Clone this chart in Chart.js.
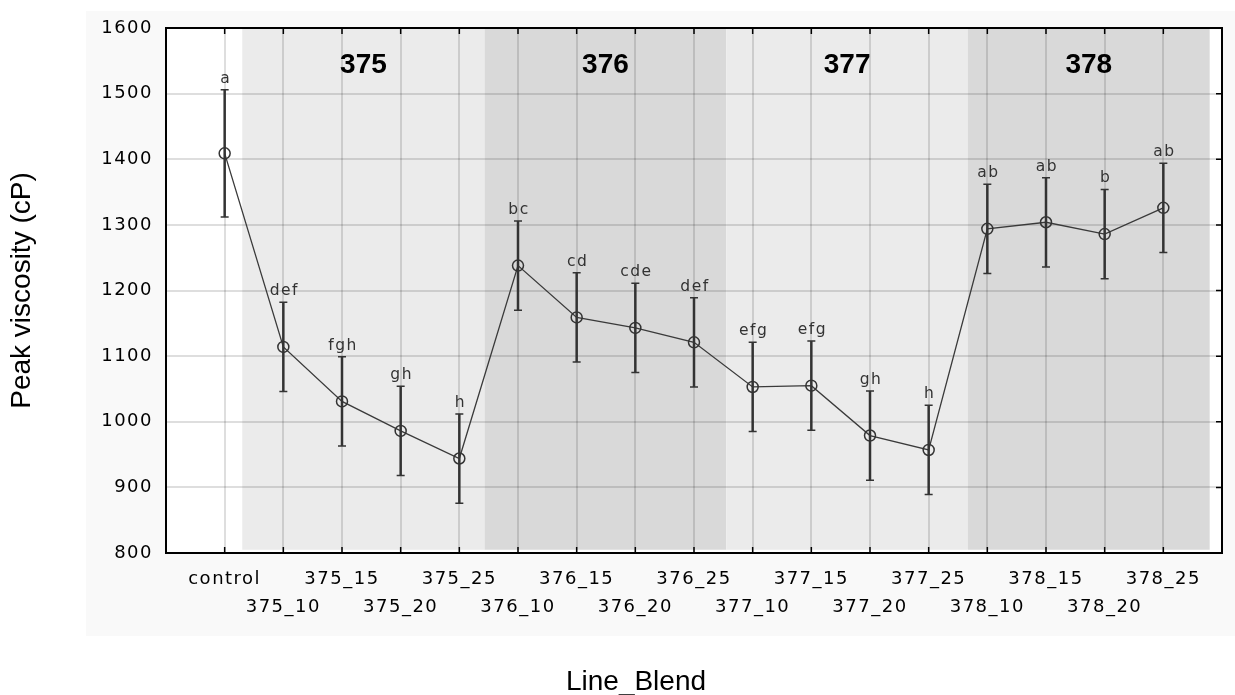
<!DOCTYPE html>
<html>
<head>
<meta charset="utf-8">
<script src="https://cdn.jsdelivr.net/npm/chart.js@4.4.1/dist/chart.umd.min.js"></script>
<style>
  html, body { margin: 0; padding: 0; background: #ffffff; }
  #wrap { width: 1235px; height: 695px; }
</style>
</head>
<body>
<div id="wrap"><canvas id="chart" width="1235" height="695"></canvas></div>
<script>
// Peak viscosity by line/blend (means with error bars and significance letters)
const categories = ['control', '375_10', '375_15', '375_20', '375_25',
  '376_10', '376_15', '376_20', '376_25',
  '377_10', '377_15', '377_20', '377_25',
  '378_10', '378_15', '378_20', '378_25'];
const peakViscosity = [1409, 1114, 1031, 986, 944,
  1238, 1159, 1143, 1121,
  1053, 1055, 979, 957,
  1294, 1304, 1286, 1326];
const errorHalfWidth = [97, 68, 68, 68, 68,
  68, 68, 68, 68,
  68, 68, 68, 68,
  68, 68, 68, 68];
const significance = ['a', 'def', 'fgh', 'gh', 'h',
  'bc', 'cd', 'cde', 'def',
  'efg', 'efg', 'gh', 'h',
  'ab', 'ab', 'b', 'ab'];

// Line groups shown as shaded bands (in category-index units)
const lineGroups = ['375', '376', '377', '378'];
const bandStart = [0.3, 4.43, 8.55, 12.67];
const bandEnd = [4.43, 8.55, 12.67, 16.79];
const bandColors = ['#ebebeb', '#d9d9d9', '#ebebeb', '#d9d9d9'];
const bandBottom = 805;
const groupLabelLevel = 1531;

const yMin = 800, yMax = 1600, yStep = 100;

const FONT = "'Liberation Sans', Arial, Helvetica, sans-serif";
const WIDE_FONT = "'DejaVu Sans', 'Liberation Sans', Arial, sans-serif";
Chart.defaults.font.family = WIDE_FONT;
Chart.defaults.color = '#000000';

const points = peakViscosity.map((v, i) => ({ x: i, y: v }));

const decorPlugin = {
  id: 'decor',
  beforeDraw(chart) {
    const ctx = chart.ctx;
    const a = chart.chartArea;
    const xs = chart.scales.x, ys = chart.scales.y;
    ctx.save();
    // outer panel
    ctx.fillStyle = '#f9f9f9';
    ctx.fillRect(86, 11, chart.width - 86, 625);
    // plot background
    ctx.fillStyle = '#ffffff';
    ctx.fillRect(a.left, a.top, a.right - a.left, a.bottom - a.top);
    // group bands
    for (let g = 0; g < lineGroups.length; g++) {
      const x0 = xs.getPixelForValue(bandStart[g]);
      const x1 = xs.getPixelForValue(bandEnd[g]);
      const y0 = ys.getPixelForValue(yMax) + 1;
      const y1 = ys.getPixelForValue(bandBottom);
      ctx.fillStyle = bandColors[g];
      ctx.fillRect(x0, y0, x1 - x0, y1 - y0);
    }
    ctx.restore();
    // axis tick labels are set slightly wide
    ctx.letterSpacing = '1.5px';
  },
  afterDatasetsDraw(chart) {
    const ctx = chart.ctx;
    const xs = chart.scales.x, ys = chart.scales.y;
    ctx.save();
    ctx.strokeStyle = '#333333';
    for (let i = 0; i < peakViscosity.length; i++) {
      const px = xs.getPixelForValue(i);
      const top = ys.getPixelForValue(peakViscosity[i] + errorHalfWidth[i]);
      const bot = ys.getPixelForValue(peakViscosity[i] - errorHalfWidth[i]);
      ctx.lineWidth = 2.5;
      ctx.beginPath();
      ctx.moveTo(px, top);
      ctx.lineTo(px, bot);
      ctx.stroke();
      ctx.lineWidth = 1.5;
      ctx.beginPath();
      ctx.moveTo(px - 4, top); ctx.lineTo(px + 4, top);
      ctx.moveTo(px - 4, bot); ctx.lineTo(px + 4, bot);
      ctx.stroke();
    }
    ctx.restore();
  },
  afterDraw(chart) {
    const ctx = chart.ctx;
    const a = chart.chartArea;
    const xs = chart.scales.x, ys = chart.scales.y;
    ctx.save();
    // significance letters above the error bars
    ctx.letterSpacing = '1.5px';
    ctx.font = '15.5px ' + WIDE_FONT;
    ctx.fillStyle = '#333333';
    ctx.textAlign = 'center';
    ctx.textBaseline = 'alphabetic';
    for (let i = 0; i < significance.length; i++) {
      const px = xs.getPixelForValue(i) + 1;
      const top = ys.getPixelForValue(peakViscosity[i] + errorHalfWidth[i]);
      ctx.fillText(significance[i], px, top - 7);
    }
    // group headings
    ctx.letterSpacing = '0px';
    ctx.font = 'bold 28px ' + FONT;
    ctx.fillStyle = '#000000';
    for (let g = 0; g < lineGroups.length; g++) {
      const cx = xs.getPixelForValue((bandStart[g] + bandEnd[g]) / 2);
      ctx.fillText(lineGroups[g], cx, ys.getPixelForValue(groupLabelLevel));
    }
    // frame
    ctx.strokeStyle = '#000000';
    ctx.lineWidth = 2;
    ctx.strokeRect(a.left, a.top, a.right - a.left, a.bottom - a.top);
    // inward tick marks
    ctx.lineWidth = 1.5;
    ctx.beginPath();
    for (let i = 0; i < categories.length; i++) {
      const px = xs.getPixelForValue(i);
      ctx.moveTo(px, a.bottom); ctx.lineTo(px, a.bottom - 6);
      ctx.moveTo(px, a.top); ctx.lineTo(px, a.top + 6);
    }
    for (let v = yMin + yStep; v < yMax; v += yStep) {
      const py = ys.getPixelForValue(v);
      ctx.moveTo(a.right, py); ctx.lineTo(a.right - 6, py);
    }
    ctx.stroke();
    // axis titles
    ctx.font = '28px ' + FONT;
    ctx.textAlign = 'center';
    ctx.textBaseline = 'alphabetic';
    ctx.fillText('Line_Blend', 636, 690);
    ctx.translate(22, (a.top + a.bottom) / 2);
    ctx.rotate(-Math.PI / 2);
    ctx.textBaseline = 'middle';
    ctx.fillText('Peak viscosity (cP)', 0, 0);
    ctx.restore();
  }
};

new Chart(document.getElementById('chart'), {
  type: 'line',
  data: {
    datasets: [{
      data: points,
      borderColor: '#3a3a3a',
      borderWidth: 1.3,
      tension: 0,
      fill: false,
      pointStyle: 'circle',
      pointRadius: 5.5,
      pointBorderWidth: 1.5,
      pointBorderColor: '#333333',
      pointBackgroundColor: 'rgba(0,0,0,0)'
    }]
  },
  options: {
    responsive: false,
    devicePixelRatio: 1,
    animation: false,
    layout: { padding: { top: 28, right: 13, bottom: 0, left: 0 } },
    plugins: { legend: { display: false }, tooltip: { enabled: false } },
    scales: {
      x: {
        type: 'linear',
        min: -1,
        max: categories.length,
        afterFit(scale) { scale.height = 142; },
        grid: {
          drawTicks: false,
          lineWidth: 2,
          color(ctx) {
            const v = ctx.tick ? ctx.tick.value : -1;
            return (v >= 0 && v < categories.length) ? 'rgba(0,0,0,0.13)' : 'rgba(0,0,0,0)';
          }
        },
        border: { display: false },
        ticks: {
          stepSize: 1,
          autoSkip: false,
          maxRotation: 0,
          minRotation: 0,
          padding: 12,
          color: '#000000',
          font: { size: 18, lineHeight: 1.55 },
          callback(value) {
            if (value < 0 || value >= categories.length || !Number.isInteger(value)) return '';
            return value % 2 === 0 ? categories[value] : ['', categories[value]];
          }
        }
      },
      y: {
        min: yMin,
        max: yMax,
        afterFit(scale) { scale.width = 166; },
        grid: { drawTicks: false, lineWidth: 2, color: 'rgba(0,0,0,0.13)' },
        border: { display: false },
        ticks: {
          stepSize: yStep,
          padding: 13,
          color: '#000000',
          font: { size: 18 },
          callback(value) { return String(value); }
        }
      }
    }
  },
  plugins: [decorPlugin]
});
</script>
</body>
</html>
